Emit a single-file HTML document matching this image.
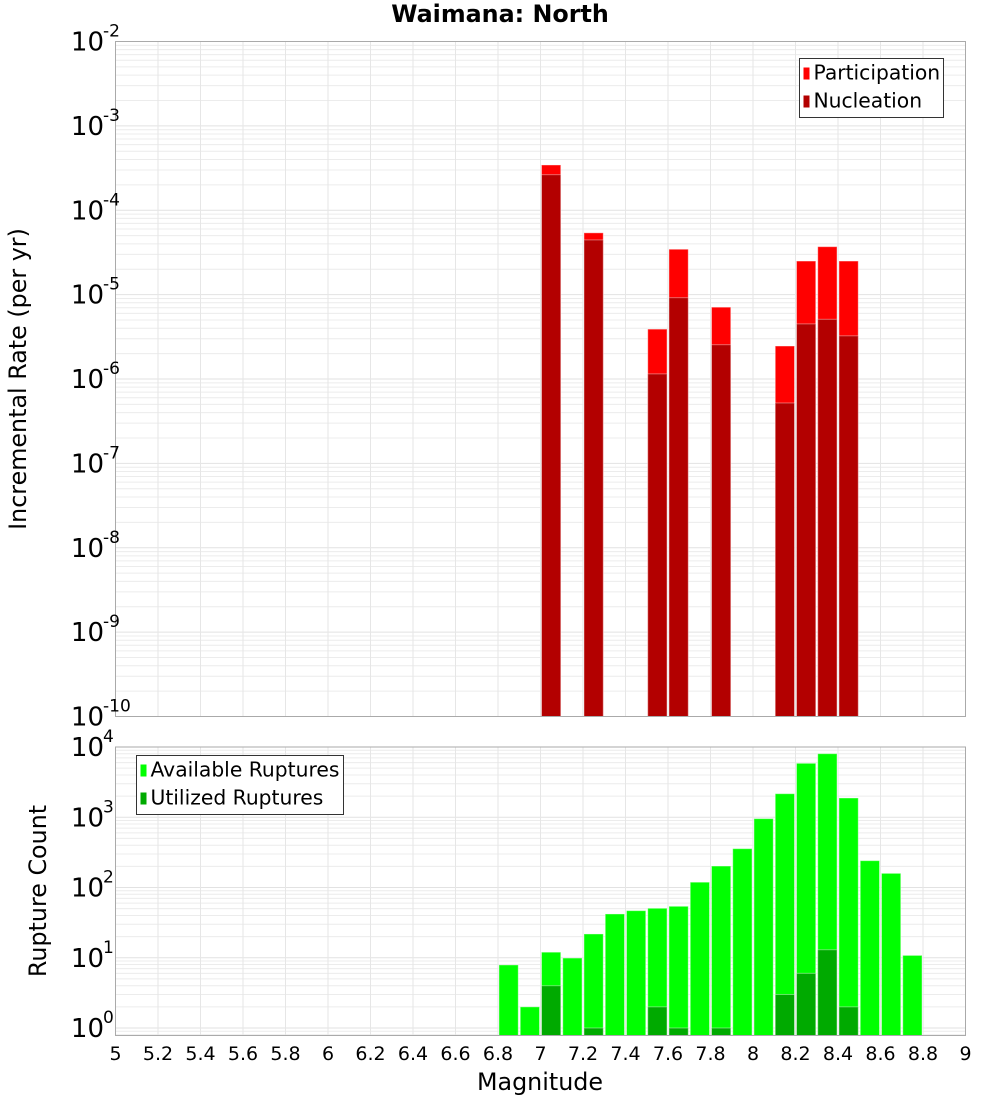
<!DOCTYPE html>
<html><head><meta charset="utf-8"><style>
html,body{margin:0;padding:0;background:#fff;}
svg{display:block;font-family:"DejaVu Sans","Liberation Sans",sans-serif;}
</style></head><body>
<svg id="c" width="1000" height="1100" viewBox="0 0 1000 1100">
<text x="500" y="22" text-anchor="middle" font-size="23.8" font-weight="bold">Waimana: North</text>
<text transform="translate(26,379) rotate(-90)" text-anchor="middle" font-size="23.8">Incremental Rate (per yr)</text>
<text transform="translate(46,891) rotate(-90)" text-anchor="middle" font-size="23.8">Rupture Count</text>
<text x="540" y="1090" text-anchor="middle" font-size="23.8">Magnitude</text>
<g id="g"></g>
</svg>
<script>
const rateMags=[7.0,7.2,7.5,7.6,7.8,8.1,8.2,8.3,8.4];
const participation=[3.44e-4,5.4e-5,3.9e-6,3.45e-5,7.1e-6,2.46e-6,2.5e-5,3.7e-5,2.5e-5];
const nucleation=[2.64e-4,4.45e-5,1.15e-6,9.2e-6,2.55e-6,5.2e-7,4.5e-6,5.1e-6,3.25e-6];
const countMags=[6.8,6.9,7.0,7.1,7.2,7.3,7.4,7.5,7.6,7.7,7.8,7.9,8.0,8.1,8.2,8.3,8.4,8.5,8.6,8.7];
const available=[7.9,2,12,9.9,21.8,42,46.8,50.6,54,119,202,357,955,2163,5860,8030,1880,241,159,10.8];
const utilizedMags=[7.0,7.2,7.5,7.6,7.8,8.1,8.2,8.3,8.4];
const utilized=[4,1,2,1,1,3,6,13,2];
const xTicks=[5,5.2,5.4,5.6,5.8,6,6.2,6.4,6.6,6.8,7,7.2,7.4,7.6,7.8,8,8.2,8.4,8.6,8.8,9];
const topExps=[-2,-3,-4,-5,-6,-7,-8,-9,-10];
const botExps=[0,1,2,3,4];

const NS='http://www.w3.org/2000/svg';
const g=document.getElementById('g');
function el(t,a,p){const e=document.createElementNS(NS,t);for(const k in a)e.setAttribute(k,a[k]);(p||g).appendChild(e);return e;}
const L=115.5,R=965.5;
const x=m=>L+(m-5)*(R-L)/4;
const T0=41.5,T1=716.5;
const yTop=v=>T0+(-2-Math.log10(v))*(T1-T0)/8;
const B0=747,B1=1035.5,BDEC=70.25;
const yBot=v=>1028-Math.log10(v)*BDEC;

function grid(top,bot,yf,lo,hi){
  for(let e=lo;e<hi;e++)for(let k=1;k<10;k++){const yy=yf(k*Math.pow(10,e));if(yy<top-0.1||yy>bot+0.1)continue;
    const l=el('line',{x1:L,x2:R,y1:yy,y2:yy,stroke:k==1?'#e2e2e2':'#ececec','stroke-width':1});
    
    }
  xTicks.forEach(t=>{const l=el('line',{x1:x(t),x2:x(t),y1:top,y2:bot,stroke:'#e6e6e6','stroke-width':1});
    
    });
}
grid(T0,T1,yTop,-10,-1);
grid(B0,B1,yBot,-1,5);
const bw=(R-L)/40;
function bar(m,v,yf,base,fill,name){const yy=yf(v);const r=el('rect',{x:x(m)+1,y:yy,width:bw-2,height:base-yy,fill:fill,stroke:'#fff','stroke-opacity':0.4,'stroke-width':1});
  
  }
rateMags.forEach((m,i)=>bar(m,participation[i],yTop,T1,'#ff0000','participation-bar'));
rateMags.forEach((m,i)=>bar(m,nucleation[i],yTop,T1,'#b30000','nucleation-bar'));
countMags.forEach((m,i)=>bar(m,available[i],yBot,B1,'#00ff00','available-bar'));
utilizedMags.forEach((m,i)=>bar(m,utilized[i],yBot,B1,'#00aa00','utilized-bar'));
[[T0,T1],[B0,B1]].forEach(([a,b])=>{const r=el('rect',{x:L,y:a,width:R-L,height:b-a,fill:'none',stroke:'#aaa','stroke-width':1});
  
  });
function ylab(yy,e){
  const t=el('text',{x:104,y:yy+9,'text-anchor':'end','font-size':26});
  
  
  t.textContent='10';
  const s=el('text',{x:103,y:yy-5,'font-size':17});
  
  
  s.textContent=String(e);}
topExps.forEach(e=>ylab(yTop(Math.pow(10,e)),e));
botExps.forEach(e=>ylab(yBot(Math.pow(10,e)),e));
xTicks.forEach(t=>{const tx=el('text',{x:x(t),y:1060,'text-anchor':'middle','font-size':19});
  
  
  tx.textContent=String(Math.round(t*10)/10);});
function legend(x0,y0,w,items){const b=el('rect',{x:x0,y:y0,width:w,height:59,fill:'#fff',stroke:'#333','stroke-width':1});
  
  
  items.forEach((it,i)=>{const sw=el('rect',{x:x0+4,y:y0+9+i*28,width:6,height:12,fill:it[1]});
    
    
    const t=el('text',{x:x0+14,y:y0+21+i*28,'font-size':20.3});
    
    
    t.textContent=it[0];});}
legend(799.5,58.5,144,[['Participation','#ff0000'],['Nucleation','#b30000']]);
legend(136.5,755.5,207,[['Available Ruptures','#00ff00'],['Utilized Ruptures','#00aa00']]);
</script>
</body></html>
